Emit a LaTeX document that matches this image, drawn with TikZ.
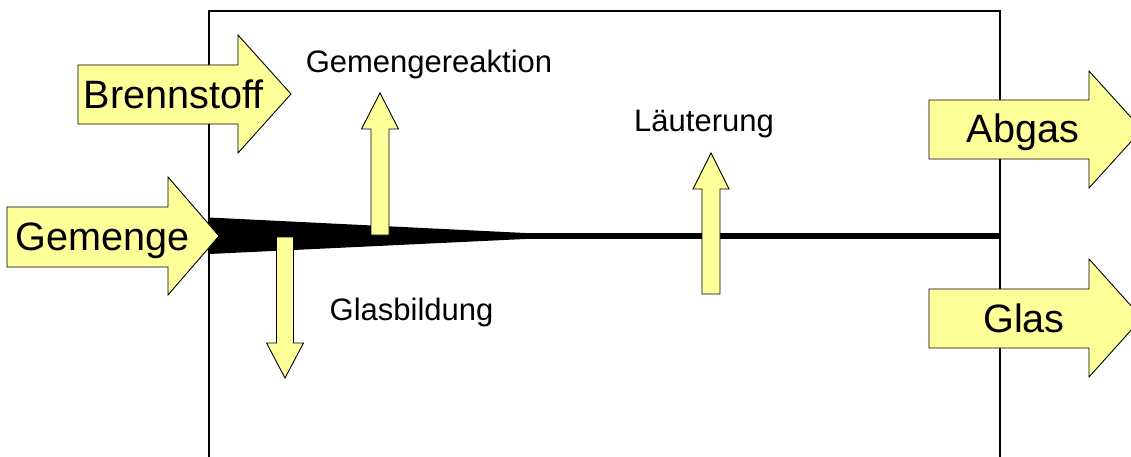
\documentclass[tikz,border=0pt]{standalone}
\usepackage{fontspec}
\setmainfont{Liberation Sans}
\definecolor{arrowfill}{RGB}{255,255,153}
\tikzset{
  flow/.style={draw=black, line width=0.9pt, fill=arrowfill, line join=miter},
  wall/.style={draw=black, line width=2.8pt},
  biglabel/.style={anchor=base, inner sep=0pt, font=\fontsize{39.6}{41}\selectfont},
  smalllabel/.style={anchor=base, inner sep=0pt, font=\fontsize{31}{33}\selectfont},
}
\begin{document}
\begin{tikzpicture}[x=1pt, y=-1pt]
\useasboundingbox (0,0) rectangle (1131,457);
% furnace box
\coordinate (bl) at (209,470);
\coordinate (tl) at (209,11);
\coordinate (tr) at (1000,11);
\coordinate (br) at (1000,470);
\draw[wall] (bl) -- (tl) -- (tr) -- (br);
% batch wedge and glass level
\coordinate (w1) at (209,217.5);
\coordinate (w2) at (525,233);
\coordinate (w3) at (525,239);
\coordinate (w4) at (209,254);
\fill[black] (w1) -- (w2) -- (w3) -- (w4) -- cycle;
\coordinate (lvlA) at (500,236);
\coordinate (lvlB) at (1000,236);
\draw[black, line width=5.5pt] (lvlA) -- (lvlB);
% big flow arrows
\draw[flow] (78,65) -- (238,65) -- (238,35) -- (291,94) -- (238,153) -- (238,124) -- (78,124) -- cycle;
\draw[flow] (7,207) -- (168,207) -- (168,177) -- (219,236) -- (168,295) -- (168,267) -- (7,267) -- cycle;
\draw[flow] (929,100) -- (1089,100) -- (1089,71) -- (1142,129.5) -- (1089,188) -- (1089,159) -- (929,159) -- cycle;
\draw[flow] (929,289) -- (1089,289) -- (1089,259) -- (1142,318) -- (1089,377) -- (1089,348) -- (929,348) -- cycle;
% small process arrows
\draw[flow] (371,235) -- (371,129) -- (361.5,129) -- (380,93) -- (398.5,129) -- (389,129) -- (389,235) -- cycle;
\draw[flow] (702,294) -- (702,189) -- (693,189) -- (711,153) -- (729,189) -- (720,189) -- (720,294) -- cycle;
\draw[flow] (276.5,237) -- (293.5,237) -- (293.5,343) -- (303.5,343) -- (285,378) -- (266.5,343) -- (276.5,343) -- cycle;
% labels
\node[biglabel] (brennstoff) at (173.5,109) {Brennstoff};
\node[biglabel] (gemenge) at (102.5,250) {Gemenge};
\node[biglabel] (abgas) at (1023,143) {Abgas};
\node[biglabel] (glas) at (1024,332) {Glas};
\node[smalllabel] (reaktion) at (429,73) {Gemengereaktion};
\node[smalllabel] (laeuterung) at (704,132) {Läuterung};
\node[smalllabel] (glasbildung) at (411.5,320) {Glasbildung};
\end{tikzpicture}
\end{document}
